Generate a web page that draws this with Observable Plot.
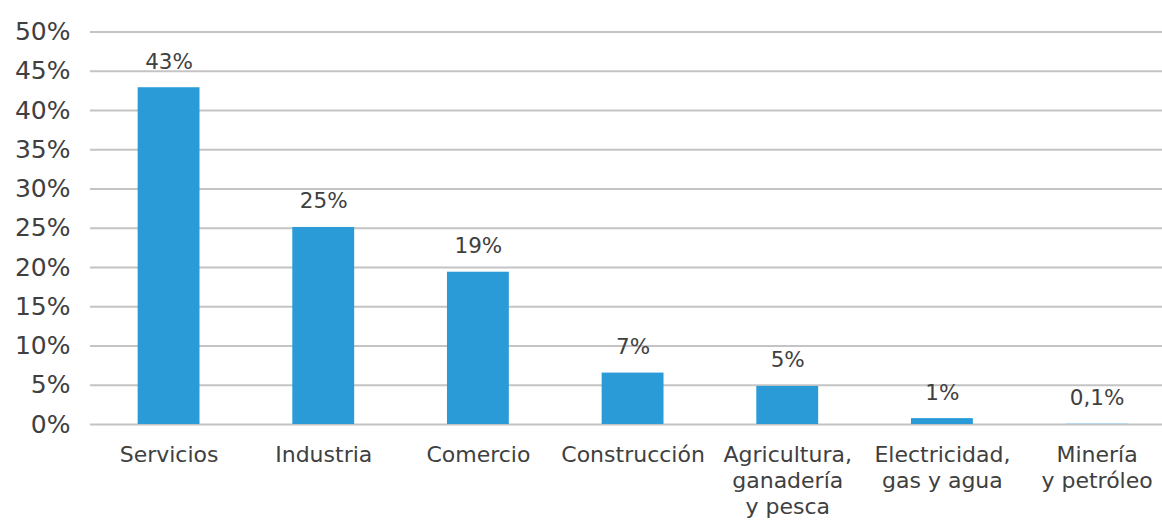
<!DOCTYPE html>
<html>
<head>
<meta charset="utf-8">
<script src="https://cdn.jsdelivr.net/npm/d3@7"></script>
<script src="https://cdn.jsdelivr.net/npm/@observablehq/plot@0.6"></script>
<style>
  html, body { margin: 0; padding: 0; background: #fff; }
  #chart svg { display: block; }
</style>
</head>
<body>
<div id="chart"></div>
<script>
const categories = ["Servicios", "Industria", "Comercio", "Construcción", "Agricultura,\nganadería\ny pesca", "Electricidad,\ngas y agua", "Minería\ny petróleo"];
const values = [42.9, 25.1, 19.4, 6.55, 4.85, 0.75, 0.1];
const valueLabels = ["43%", "25%", "19%", "7%", "5%", "1%", "0,1%"];
const yTicks = [0, 5, 10, 15, 20, 25, 30, 35, 40, 45, 50];

const data = categories.map((c, i) => ({cat: c, value: values[i], label: valueLabels[i]}));
const font = "DejaVu Sans";
const textColor = "#404040";

const chart = Plot.plot({
  width: 1162,
  height: 521,
  marginLeft: 90,
  marginRight: 0,
  marginTop: 31.5,
  marginBottom: 97,
  style: {fontFamily: font, color: textColor, background: "#fff"},
  x: {domain: categories, paddingInner: 0.6, paddingOuter: 0.2655, align: 0.58, round: false, axis: null, label: null},
  y: {domain: [0, 50], ticks: yTicks, tickFormat: d => d + "%", label: null},
  marks: [
    Plot.ruleY(yTicks, {stroke: "#c4c4c4", strokeWidth: 2}),
    Plot.barY(data, {x: "cat", y: "value", fill: (d) => d.value < 0.5 ? "#a9d6ef" : "#2a9bd7"}),
    Plot.text(data, {x: "cat", y: "value", text: "label", dy: -26, fontSize: 21.5, fill: textColor}),
    Plot.text(categories, {x: d => d, frameAnchor: "bottom", lineAnchor: "top", dy: 19, fontSize: 22, lineHeight: 1.18, fill: textColor}),
    Plot.axisY({ticks: yTicks, tickFormat: d => d + "%", tickSize: 0, tickPadding: 20, fontSize: 25, fill: textColor, label: null})
  ]
});
document.getElementById("chart").appendChild(chart);
</script>
</body>
</html>
